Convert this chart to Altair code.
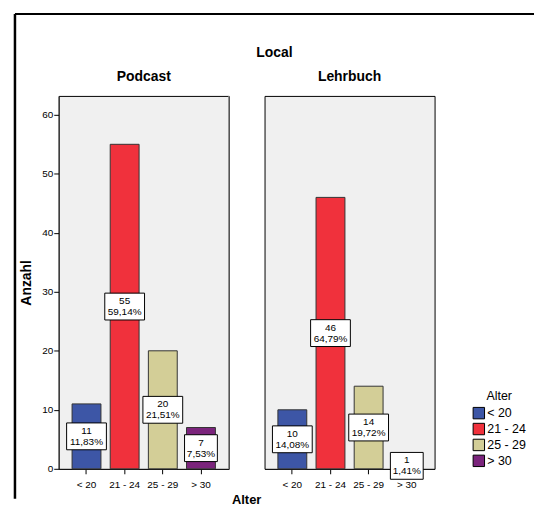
import altair as alt
import pandas as pd

panel_order = ["Podcast", "Lehrbuch"]
age_order = ["< 20", "21 - 24", "25 - 29", "> 30"]
panels = ["Podcast"] * 4 + ["Lehrbuch"] * 4
ages = age_order * 2
counts = [11, 55, 20, 7, 10, 46, 14, 1]
pcts = ["11,83%", "59,14%", "21,51%", "7,53%", "14,08%", "64,79%", "19,72%", "1,41%"]
colors = ["#3D56A6", "#F0313C", "#D3CE97", "#7B247C"]
y_ticks = [0, 10, 20, 30, 40, 50, 60]

df = pd.DataFrame({"Local": panels, "Alter": ages, "Anzahl": counts, "pct": pcts})

W, H = 171, 375
FONT = "Liberation Sans"

xscale = alt.Scale(domain=age_order, paddingInner=0.243, paddingOuter=0.35)
yscale = alt.Scale(domain=[0, 63.2], nice=False, zero=True)

x_enc = alt.X("Alter:N", sort=age_order, scale=xscale, title=None,
              axis=alt.Axis(labelAngle=0, labelFontSize=10, labelColor="black",
                            tickColor="black", tickSize=5, domainColor="black",
                            labelPadding=6))
y_enc = alt.Y("Anzahl:Q", scale=yscale, title="Anzahl",
              axis=alt.Axis(values=y_ticks, grid=False, labelFontSize=10, labelColor="black",
                            tickColor="black", tickSize=5, domainColor="black",
                            titleFontSize=14, titleFontWeight="bold", titleColor="black",
                            titlePadding=8, labelPadding=1))

base = alt.Chart().properties(width=W, height=H)

bars = base.mark_bar(stroke="#333333", strokeWidth=1).encode(
    x=x_enc, y=y_enc,
    color=alt.Color("Alter:N", sort=age_order,
                    scale=alt.Scale(domain=age_order, range=colors),
                    legend=alt.Legend(title="Alter", orient="none", legendX=416, legendY=296,
                                      symbolType="square", symbolSize=132,
                                      symbolStrokeColor="black", symbolStrokeWidth=1,
                                      labelFontSize=12.5, titleFontSize=12.5,
                                      titleFontWeight="normal", titleAnchor="middle",
                                      labelColor="black", titleColor="black",
                                      rowPadding=-1, labelOffset=2, titlePadding=4))
)

boxes = base.transform_calculate(
    mid="datum.Anzahl / 2",
    hw="(7 * length(datum.pct) - 2) / 40",
).transform_calculate(
    shp="'M' + (-datum.hw) + ',-0.675H' + datum.hw + 'V0.675H' + (-datum.hw) + 'Z'"
).mark_point(filled=True, fill="white", stroke="black", strokeWidth=1,
             opacity=1, fillOpacity=1, strokeOpacity=1, size=1600).encode(
    x=alt.X("Alter:N", sort=age_order, scale=xscale),
    y=alt.Y("mid:Q", scale=yscale),
    shape=alt.Shape("shp:N", scale=None),
)

labels = base.transform_calculate(
    mid="datum.Anzahl / 2",
    lab="datum.Anzahl + '\\n' + datum.pct",
).mark_text(lineBreak="\n", fontSize=10, lineHeight=11, color="black", dy=-5.5,
            align="center", baseline="middle", font=FONT).encode(
    x=alt.X("Alter:N", sort=age_order, scale=xscale),
    y=alt.Y("mid:Q", scale=yscale),
    text="lab:N",
)

first = "datum.Local == 'Podcast' && datum.Alter == '< 20'"
right_edge = base.transform_filter(first).mark_rule(color="#888888", strokeWidth=1).encode(
    x=alt.value(W), y=alt.value(0), y2=alt.value(H))
frame_v = base.transform_filter(first).mark_rule(color="black", strokeWidth=2.5).encode(
    x=alt.value(-44), y=alt.value(-82.5), y2=alt.value(405))
frame_h = base.transform_filter(first).mark_rule(color="black", strokeWidth=2).encode(
    x=alt.value(-44), x2=alt.value(478), y=alt.value(-82.5))
x_title = base.transform_filter(first).mark_text(
    text="Alter", fontSize=13, fontWeight="bold", color="black", font=FONT,
    align="center", baseline="top").encode(
    x=alt.value(W + 18), y=alt.value(H + 25))

layered = alt.layer(bars, boxes, labels, right_edge, frame_v, frame_h, x_title)

chart = layered.facet(
    data=df,
    column=alt.Column("Local:N", sort=panel_order, title="Local",
                      header=alt.Header(labelFontSize=14, labelFontWeight="bold",
                                        titleFontSize=14, titleFontWeight="bold",
                                        labelColor="black", titleColor="black",
                                        labelPadding=12, titlePadding=0)),
    spacing=36,
    bounds="flush",
).properties(
    padding={"left": 5, "top": 2, "right": 0, "bottom": 0}
).configure(font=FONT).configure_view(
    fill="#F0F0F0", stroke="black", strokeWidth=1
)

chart.save("out.html", embed_options={"renderer": "svg", "actions": False})
